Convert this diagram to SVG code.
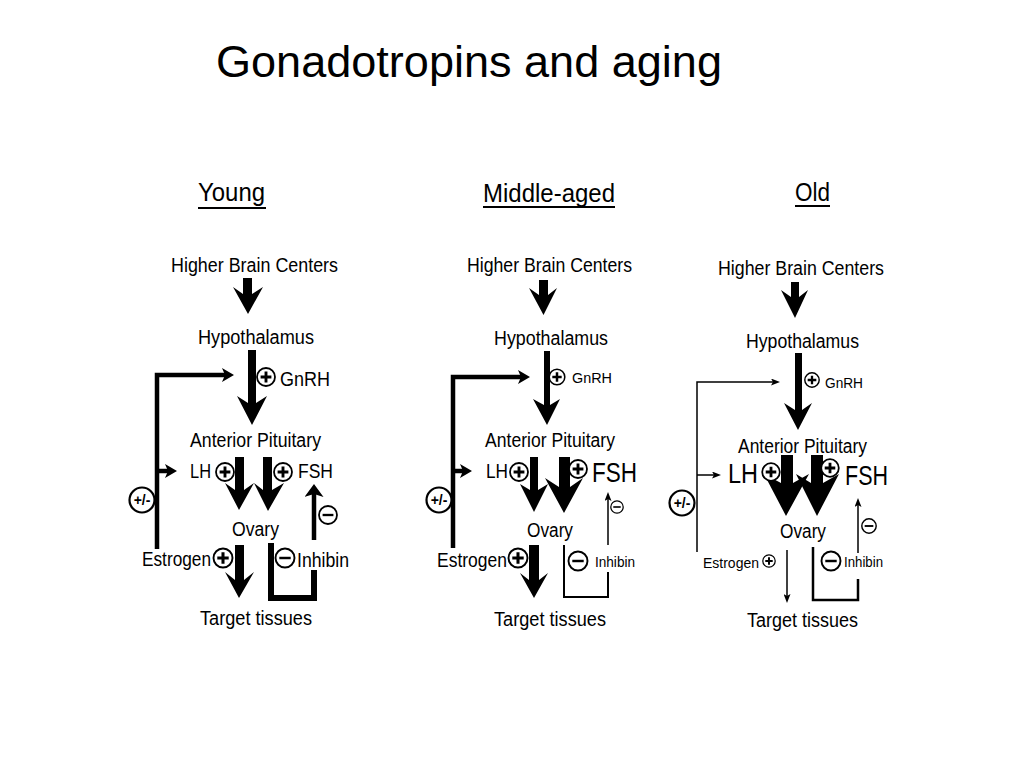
<svg xmlns="http://www.w3.org/2000/svg" width="1024" height="768" viewBox="0 0 1024 768">
<style>
text{font-family:"Liberation Sans",Arial,Helvetica,sans-serif;fill:#000}
.t{font-size:20px}
.big{font-size:27px}
.sm{font-size:15.5px}
.hd{font-size:25px}
.ttl{font-size:45px}
.fat{fill:#000}
.ln{fill:none;stroke:#000;stroke-linejoin:miter;stroke-linecap:butt}
.w4{stroke-width:4.5}
.w6{stroke-width:6}
.w2{stroke-width:2}
.w1{stroke-width:1.5}
.pm{font-size:14px;font-weight:bold;text-anchor:middle}
</style>
<defs>
<marker id="ah" markerUnits="userSpaceOnUse" viewBox="0 0 12 14" refX="3" refY="7" markerWidth="12" markerHeight="14" orient="auto"><path d="M0,0 L12,7 L0,14 L3,7 Z" fill="#000"/></marker>
<marker id="ahL" markerUnits="userSpaceOnUse" viewBox="0 0 13 19" refX="3" refY="9.5" markerWidth="13" markerHeight="19" orient="auto"><path d="M0,0 L13,9.5 L0,19 L3,9.5 Z" fill="#000"/></marker>
<marker id="ahs" markerUnits="userSpaceOnUse" viewBox="0 0 9 7" refX="2" refY="3.5" markerWidth="9" markerHeight="7" orient="auto"><path d="M0,0 L9,3.5 L0,7 L2,3.5 Z" fill="#000"/></marker>
<g id="pl"><circle r="10" fill="#fff" stroke="#000" stroke-width="2"/><path d="M-6,0H6M0,-6V6" stroke="#000" stroke-width="3.2"/></g>
<g id="mi"><circle r="10" fill="#fff" stroke="#000" stroke-width="2"/><path d="M-6,0H6" stroke="#000" stroke-width="2.6"/></g>
<g id="pmc"><circle r="12.5" fill="#fff" stroke="#000" stroke-width="2.2"/><text class="pm" x="0" y="5">+/-</text></g>
</defs>
<rect width="1024" height="768" fill="#fff"/>
<text class="ttl" x="216" y="77" textLength="506" lengthAdjust="spacingAndGlyphs">Gonadotropins and aging</text>

<!-- ===== YOUNG ===== -->
<g id="young">
<g id="young-title"><text class="hd" x="198" y="201" textLength="67" lengthAdjust="spacingAndGlyphs">Young</text><line x1="198" y1="208" x2="266" y2="208" stroke="#000" stroke-width="1.8"/></g>
<g id="young-hbc"><text class="t" x="171" y="272" textLength="167" lengthAdjust="spacingAndGlyphs">Higher Brain Centers</text></g>
<g id="young-hyp"><text class="t" x="198" y="344" textLength="116" lengthAdjust="spacingAndGlyphs">Hypothalamus</text></g>
<g id="young-ap"><text class="t" x="190" y="447" textLength="131" lengthAdjust="spacingAndGlyphs">Anterior Pituitary</text></g>
<g id="young-lh"><text class="t" x="190" y="478" textLength="21" lengthAdjust="spacingAndGlyphs">LH</text></g>
<g id="young-fsh"><text class="t" x="298" y="478" textLength="35" lengthAdjust="spacingAndGlyphs">FSH</text></g>
<g id="young-ovary"><text class="t" x="232" y="536" textLength="47" lengthAdjust="spacingAndGlyphs">Ovary</text></g>
<g id="young-estrogen"><text class="t" x="142" y="566" textLength="69" lengthAdjust="spacingAndGlyphs">Estrogen</text></g>
<g id="young-inhibin"><text class="t" x="297" y="567" textLength="52" lengthAdjust="spacingAndGlyphs">Inhibin</text></g>
<g id="young-target"><text class="t" x="200" y="625" textLength="112" lengthAdjust="spacingAndGlyphs">Target tissues</text></g>
<g id="young-gnrh"><text class="t" x="280" y="386" textLength="50" lengthAdjust="spacingAndGlyphs">GnRH</text></g>
</g>
<g id="young-connectors">
<polygon class="fat" points="243,278 252,278 252,294 263,287 248,314 233,287 243,294"/>
<polygon class="fat" points="248,350 256,350 256,403 267,396 252,425 237,396 248,403"/>
<polygon class="fat" points="235,457 244,457 244,490 254,483 239,510 225,483 235,490"/>
<polygon class="fat" points="263,457 272,457 272,490 284,483 268,511 254,483 263,490"/>
<polygon class="fat" points="235,545 244,545 244,580 254,572 239,598 225,572 235,580"/>
<path class="ln w4" d="M157,549 V375 H225" marker-end="url(#ah)"/>
<path class="ln w4" d="M157,471 H168" marker-end="url(#ah)"/>
<path class="ln w4" d="M314,540 V494" marker-end="url(#ahL)"/>
<path class="ln w6" d="M271,543 V598 H314 V570"/>
<use href="#pl" transform="translate(266,377) scale(0.9)"/>
<use href="#pl" transform="translate(225,472) scale(0.9)"/>
<use href="#pl" transform="translate(283,472) scale(0.9)"/>
<use href="#pl" transform="translate(223,558) scale(0.95)"/>
<use href="#mi" transform="translate(328,515) scale(0.9)"/>
<use href="#mi" transform="translate(285,558) scale(0.95)"/>
<use href="#pmc" transform="translate(142,500)"/>
</g>

<!-- ===== MIDDLE-AGED ===== -->
<g id="middle">
<g id="middle-title"><text class="hd" x="483" y="202" textLength="132" lengthAdjust="spacingAndGlyphs">Middle-aged</text><line x1="483" y1="207" x2="615" y2="207" stroke="#000" stroke-width="1.8"/></g>
<g id="middle-hbc"><text class="t" x="467" y="272" textLength="165" lengthAdjust="spacingAndGlyphs">Higher Brain Centers</text></g>
<g id="middle-hyp"><text class="t" x="494" y="345" textLength="114" lengthAdjust="spacingAndGlyphs">Hypothalamus</text></g>
<g id="middle-ap"><text class="t" x="485" y="447" textLength="130" lengthAdjust="spacingAndGlyphs">Anterior Pituitary</text></g>
<g id="middle-lh"><text class="t" x="486" y="478" textLength="22" lengthAdjust="spacingAndGlyphs">LH</text></g>
<g id="middle-fsh"><text class="big" x="592" y="482" textLength="45" lengthAdjust="spacingAndGlyphs">FSH</text></g>
<g id="middle-ovary"><text class="t" x="527" y="537" textLength="46" lengthAdjust="spacingAndGlyphs">Ovary</text></g>
<g id="middle-estrogen"><text class="t" x="437" y="567" textLength="70" lengthAdjust="spacingAndGlyphs">Estrogen</text></g>
<g id="middle-inhibin"><text class="sm" x="595" y="567" textLength="40" lengthAdjust="spacingAndGlyphs">Inhibin</text></g>
<g id="middle-target"><text class="t" x="494" y="626" textLength="112" lengthAdjust="spacingAndGlyphs">Target tissues</text></g>
<g id="middle-gnrh"><text class="sm" x="572" y="383" textLength="40" lengthAdjust="spacingAndGlyphs">GnRH</text></g>
</g>
<g id="middle-connectors">
<polygon class="fat" points="539,280 548,280 548,295 557,288 543.5,315 529,288 539,295"/>
<polygon class="fat" points="544,351 550,351 550,405 560,399 547,425 533,399 544,405"/>
<polygon class="fat" points="530,457 538,457 538,490 548,484 534,512 520,484 530,490"/>
<polygon class="fat" points="559,457 570,457 570,487 583,478 564,513 545,478 559,487"/>
<polygon class="fat" points="529,545 539,545 539,580 548,573 534,598 520,573 529,580"/>
<path class="ln w4" d="M453,548 V377 H521" marker-end="url(#ah)"/>
<path class="ln w4" d="M453,471 H463" marker-end="url(#ah)"/>
<path class="ln w1" d="M608,545 V499" marker-end="url(#ahs)"/>
<path class="ln w2" d="M564,545 V597 H608 V572"/>
<use href="#pl" transform="translate(557,377) scale(0.78)"/>
<use href="#pl" transform="translate(519,472) scale(0.9)"/>
<use href="#pl" transform="translate(578,469) scale(0.9)"/>
<use href="#pl" transform="translate(518,558) scale(0.95)"/>
<use href="#mi" transform="translate(617,507) scale(0.62)"/>
<use href="#mi" transform="translate(578,561) scale(0.95)"/>
<use href="#pmc" transform="translate(439,500)"/>
</g>

<!-- ===== OLD ===== -->
<g id="old">
<g id="old-title"><text class="hd" x="795" y="201" textLength="35" lengthAdjust="spacingAndGlyphs">Old</text><line x1="795" y1="206" x2="830" y2="206" stroke="#000" stroke-width="1.8"/></g>
<g id="old-hbc"><text class="t" x="718" y="275" textLength="166" lengthAdjust="spacingAndGlyphs">Higher Brain Centers</text></g>
<g id="old-hyp"><text class="t" x="746" y="348" textLength="113" lengthAdjust="spacingAndGlyphs">Hypothalamus</text></g>
<g id="old-ap"><text class="t" x="738" y="453" textLength="129" lengthAdjust="spacingAndGlyphs">Anterior Pituitary</text></g>
<g id="old-lh"><text class="big" x="728" y="483" textLength="30" lengthAdjust="spacingAndGlyphs">LH</text></g>
<g id="old-fsh"><text class="big" x="845" y="485" textLength="43" lengthAdjust="spacingAndGlyphs">FSH</text></g>
<g id="old-ovary"><text class="t" x="780" y="538" textLength="46" lengthAdjust="spacingAndGlyphs">Ovary</text></g>
<g id="old-estrogen"><text class="sm" x="703" y="568" textLength="56" lengthAdjust="spacingAndGlyphs">Estrogen</text></g>
<g id="old-inhibin"><text class="sm" x="844" y="567" textLength="39" lengthAdjust="spacingAndGlyphs">Inhibin</text></g>
<g id="old-target"><text class="t" x="747" y="627" textLength="111" lengthAdjust="spacingAndGlyphs">Target tissues</text></g>
<g id="old-gnrh"><text class="sm" x="825" y="388" textLength="38" lengthAdjust="spacingAndGlyphs">GnRH</text></g>
</g>
<g id="old-connectors">
<polygon class="fat" points="791,282 799,282 799,297 808,290 795,318 781,290 791,297"/>
<polygon class="fat" points="795,353 802,353 802,410 812,403 798,430 784,403 795,410"/>
<polygon class="fat" points="781,455 793,455 793,483 809,474 786,516 764,474 781,483"/>
<polygon class="fat" points="811,455 823,455 823,483 839,474 817,516 796,474 811,483"/>
<path class="ln w1" d="M697,552 V382 H773" marker-end="url(#ahs)"/>
<path class="ln w1" d="M697,475 H714" marker-end="url(#ahs)"/>
<path class="ln w1" d="M858,553 V505" marker-end="url(#ahs)"/>
<path class="ln w1" d="M787,550 V596" marker-end="url(#ahs)"/>
<path class="ln" stroke-width="2.5" d="M813,547 V600 H858 V579"/>
<use href="#pl" transform="translate(812,380) scale(0.72)"/>
<use href="#pl" transform="translate(771,472) scale(0.88)"/>
<use href="#pl" transform="translate(830,468) scale(0.88)"/>
<use href="#pl" transform="translate(769,561) scale(0.62)"/>
<use href="#mi" transform="translate(869,526) scale(0.72)"/>
<use href="#mi" transform="translate(831,561) scale(0.95)"/>
<use href="#pmc" transform="translate(682,503)"/>
</g>
</svg>
